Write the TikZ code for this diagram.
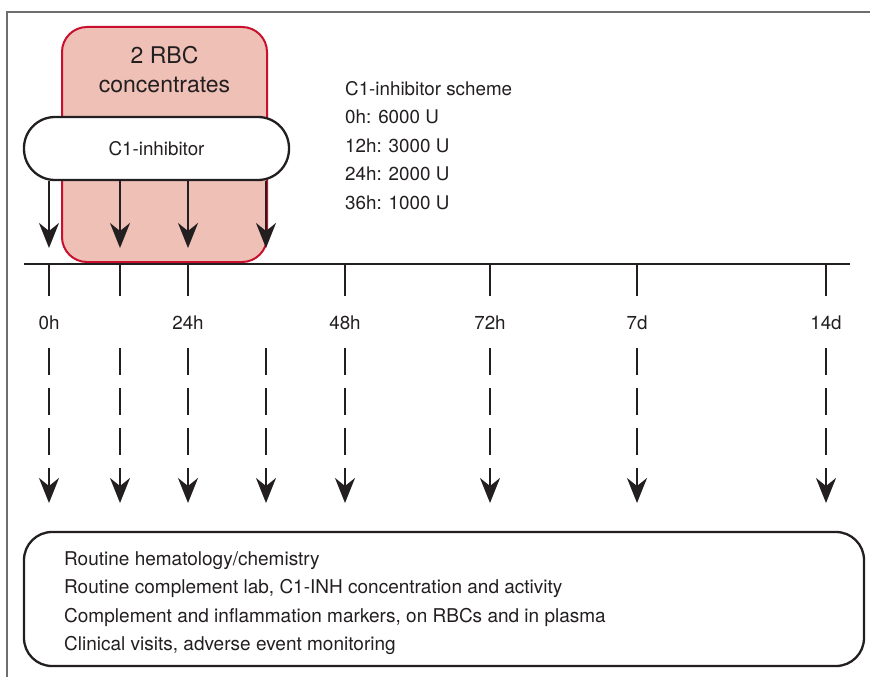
\documentclass[tikz,border=0pt]{standalone}
\usepackage{fontspec}
\setmainfont{TeX Gyre Heros}
\usepackage{xcolor}
\usetikzlibrary{positioning, arrows.meta}

\definecolor{rbcfill}{HTML}{EFC0B6}
\definecolor{rbcline}{HTML}{C8102E}
\definecolor{framegray}{HTML}{6E6E6E}
\definecolor{ink}{HTML}{231F20}

\begin{document}
\begin{tikzpicture}[x=1pt, y=-1pt, text=ink, inner sep=2pt,
  font=\fontsize{18.8}{28.5}\selectfont,
  tip/.style={draw=ink, line width=2.3pt, -{Stealth[length=25pt, width=20pt, inset=8pt]}},
  tick/.style={draw=ink, line width=2.3pt},
  box/.style={draw=ink, line width=2.3pt}]
  \useasboundingbox (0,0) rectangle (870,677);

  % 外框
  \draw[framegray, line width=2pt] (870,12) -- (7,12) -- (7,677);

  % 时间点
  \foreach \n/\x in {0/49, 12/120, 24/188, 36/266, 48/345, 72/490, 168/637, 336/826}{
    \coordinate (t\n) at (\x,264);
    \coordinate (d\n) at (\x,348);
    \coordinate (e\n) at (\x,503);
  }

  % 红细胞输注
  \node[draw=rbcline, fill=rbcfill, line width=2pt, rounded corners=25pt,
        minimum width=205pt, minimum height=235pt,
        label={[font=\fontsize{23}{29}\selectfont, align=center, inner sep=0pt,
                anchor=north, yshift=-20pt]north:2 RBC\\concentrates}] (rbc) at (164.5,144.5) {};

  % C1 抑制剂
  \node[box, fill=white, rounded corners=31pt, minimum width=265pt, minimum height=63pt]
    (c1) at (156.5,148.5) {C1-inhibitor};
  \foreach \n in {0,12,24,36}
    \draw[tip] (t\n |- c1.south) -- ([yshift=16pt]t\n);

  % 给药方案
  \node[anchor=north west, align=left, inner sep=0pt] (scheme) at (345,81) {
    C1-inhibitor scheme\\
    0h: 6000 U\\
    12h: 3000 U\\
    24h: 2000 U\\
    36h: 1000 U
  };

  % 时间轴
  \draw[ink, line width=2.8pt] (24,264) coordinate (axL) -- (850,264) coordinate (axR);
  \foreach \n in {0,12,24,48,72,168,336}
    \draw[tick] (t\n) -- ++(0,32);
  \foreach \n/\lab in {0/0h, 24/24h, 48/48h, 72/72h, 168/7d, 336/14d}
    \node[anchor=base] (l\n) at (t\n |- 0,329) {\lab};

  % 采样
  \foreach \n in {0,12,24,36,48,72,168,336}
    \draw[tip, dash pattern=on 27pt off 13pt] (d\n) -- (e\n);

  % 检测项目
  \node[box, rounded corners=28pt, minimum width=840pt, minimum height=134pt] (panel) at (444,599) {};
  \node[anchor=west, align=left, font=\fontsize{19}{28.5}\selectfont] (tests) at (62,603) {
    Routine hematology/chemistry\\
    Routine complement lab, C1-INH concentration and activity\\
    Complement and inflammation markers, on RBCs and in plasma\\
    Clinical visits, adverse event monitoring
  };
\end{tikzpicture}
\end{document}
